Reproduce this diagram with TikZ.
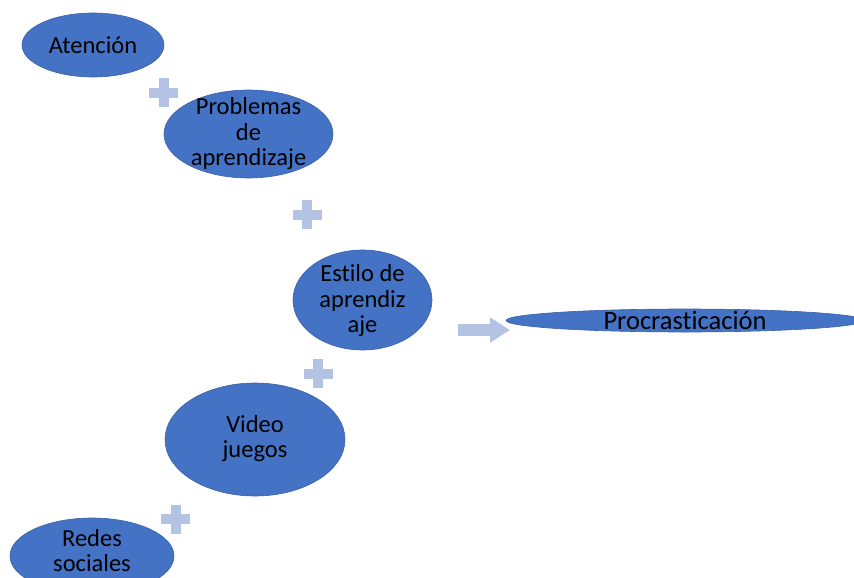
\documentclass[tikz,border=0pt]{standalone}
\usepackage{fontspec}
\setmainfont{Carlito}[Ligatures=NoCommon]
\usetikzlibrary{shapes.geometric,arrows.meta}
\definecolor{nodeblue}{HTML}{4472C4}
\definecolor{plusblue}{HTML}{B4C3E3}

\begin{document}
\begin{tikzpicture}[x=1pt, y=-1pt, main/.style = {draw=nodeblue!85!black, line width=0.6pt, fill=nodeblue, ellipse, inner sep=0pt}, txt/.style = {align=center, inner sep=0pt, font=\fontsize{24.5}{25.5}\selectfont}, plus/.style = {fill=plusblue}]
        \useasboundingbox (0,0) rectangle (854,578);
        \clip (0,0) rectangle (854,578);
        \node[main, minimum width=142pt, minimum height=64pt] (1) at (93,45) {};
        \node[main, minimum width=169pt, minimum height=88pt] (2) at (248.5,134) {};
        \node[main, minimum width=139pt, minimum height=100pt] (3) at (362.5,300) {};
        \node[main, minimum width=358pt, minimum height=23pt] (4) at (685,320.5) {};
        \node[main, minimum width=180pt, minimum height=113pt] (5) at (255,439.5) {};
        \node[main, minimum width=164pt, minimum height=76pt] (6) at (92,556) {};

        \node[txt] at (1) {Atención};
        \node[txt] at (2) {Problemas\\de\\aprendizaje};
        \node[txt] at (3.center) [yshift=-1pt] {Estilo de\\aprendiz\\aje};
        \node[txt, font=\fontsize{26.5}{28}\selectfont] at (4) {Procrasticación};
        \node[txt] at (5.center) [yshift=1pt] {Video\\juegos};
        \node[txt] at (92,550.5) {Redes\\sociales};

        \foreach \x/\y in {163.5/92.5, 307/214.5, 318/373.5, 175.5/519} {
            \fill[plus] (\x-14.5,\y-5) rectangle (\x+14.5,\y+5);
            \fill[plus] (\x-5,\y-14.5) rectangle (\x+5,\y+14.5);
        }

        \coordinate (a) at (458,330);
        \coordinate (b) at (510,330);
        \draw[plusblue, line width=12pt, -{Triangle[length=20pt, width=24pt]}] (a) -- (b);
\end{tikzpicture}
\end{document}
